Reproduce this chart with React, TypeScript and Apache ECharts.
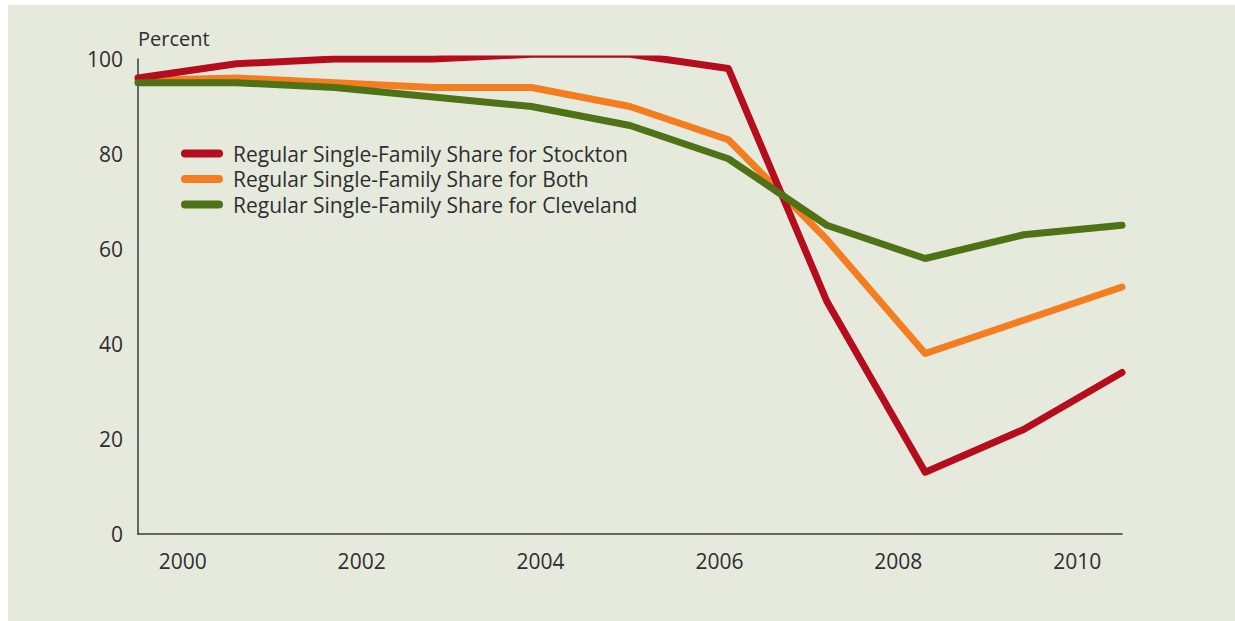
import React, { useEffect, useRef } from "react";
import * as echarts from "echarts";

const years = [1999.5, 2000.6, 2001.7, 2002.8, 2003.9, 2005.0, 2006.1, 2007.2, 2008.3, 2009.4, 2010.5];
const stockton = [96, 99, 100, 100, 101, 101, 98, 49, 13, 22, 34];
const both = [95.5, 96, 95, 94, 94, 90, 83, 62, 38, 45, 52];
const cleveland = [95, 95, 94, 92, 90, 86, 79, 65, 58, 63, 65];
const xTickLabels = [2000, 2002, 2004, 2006, 2008, 2010];
const seriesNames = [
  "Regular Single-Family Share for Stockton",
  "Regular Single-Family Share for Both",
  "Regular Single-Family Share for Cleveland",
];
const colors = ["#b50d1e", "#f47d20", "#4e7216"];

const FONT = "Open Sans";
const TEXT = "#2e2e2e";

export default function App() {
  const ref = useRef<HTMLDivElement>(null);
  useEffect(() => {
    if (!ref.current) return;
    const chart = echarts.init(ref.current, null, { renderer: "svg" });
    const mk = (vals: number[]) => years.map((y, i) => [y, vals[i]]);
    const datas = [mk(stockton), mk(both), mk(cleveland)];
    const zs = [3, 2, 4];
    chart.setOption({
      animation: false,
      backgroundColor: "#e6eadd",
      textStyle: { fontFamily: FONT },
      grid: { left: 130, right: 113, top: 54, bottom: 87, containLabel: false },
      xAxis: {
        type: "value",
        min: 1999.5,
        max: 2010.5,
        axisLine: { show: true, onZero: false, lineStyle: { color: "#3a3a3a", width: 1.5 } },
        axisTick: { show: false },
        splitLine: { show: false },
        axisLabel: {
          customValues: xTickLabels,
          color: TEXT,
          fontSize: 21,
          fontFamily: FONT,
          margin: 16,
          formatter: (v: number) => String(v),
        },
      },
      yAxis: {
        type: "value",
        min: 0,
        max: 100,
        interval: 20,
        axisLine: { show: true, lineStyle: { color: "#3a3a3a", width: 1.5 } },
        axisTick: { show: false },
        splitLine: { show: false },
        axisLabel: { color: TEXT, fontSize: 21, fontFamily: FONT, margin: 15 },
      },
      legend: {
        orient: "vertical",
        left: 168,
        top: 133,
        itemWidth: 42,
        itemHeight: 8,
        itemGap: 4.5,
        icon: "path://M4,0 H38 A4,4 0 0 1 38,8 H4 A4,4 0 0 1 4,0 Z",
        data: seriesNames,
        textStyle: { color: TEXT, fontSize: 21, fontFamily: FONT, padding: [0, 0, 0, 5], lineHeight: 21 },
      },
      graphic: [
        {
          type: "text",
          left: 130,
          top: 23,
          style: { text: "Percent", fill: TEXT, font: `20px "${FONT}"` },
        },
      ],
      series: seriesNames.map((name, i) => ({
        name,
        type: "line",
        data: datas[i],
        z: zs[i],
        showSymbol: false,
        symbol: "none",
        lineStyle: { color: colors[i], width: 7, cap: "round", join: "round" },
        itemStyle: { color: colors[i] },
      })),
    });
    return () => chart.dispose();
  }, []);
  return (
    <div
      ref={ref}
      style={{ position: "absolute", left: 8, top: 5, width: 1227, height: 616 }}
    />
  );
}
